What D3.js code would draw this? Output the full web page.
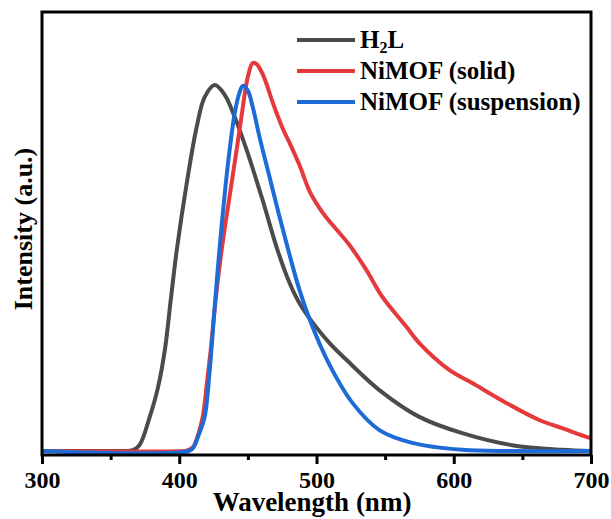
<!DOCTYPE html>
<html>
<head>
<meta charset="utf-8">
<script src="https://cdnjs.cloudflare.com/ajax/libs/d3/7.8.5/d3.min.js"></script>
<style>
  html, body { margin: 0; padding: 0; background: #fff; }
  svg { display: block; font-family: "Liberation Serif", "Times New Roman", serif; font-weight: bold; }
</style>
</head>
<body>
<div id="chart"></div>
<script>
'use strict';

// emission spectra (arbitrary units, red peak = 1)
var h2lWave = [300, 342, 360, 366, 371, 378.5, 384.4, 389.5, 393.8, 398.2, 405.5, 412.7, 418.5, 425.8, 433.1, 440.4, 449.1, 460.7, 471.6, 480.4, 487.6, 498.5, 509.5, 521.8, 545.8, 574.9, 606.2, 642.6, 678.9, 700];
var h2lInt  = [0, 0, 0, 0.002, 0.015, 0.088, 0.162, 0.26, 0.389, 0.518, 0.691, 0.835, 0.912, 0.943, 0.918, 0.861, 0.776, 0.647, 0.518, 0.433, 0.381, 0.325, 0.278, 0.235, 0.157, 0.088, 0.046, 0.015, 0.003, 0];

var solidWave = [300, 404, 405.5, 410, 414, 417.1, 420, 422.9, 426.5, 430.9, 436.7, 441.8, 445.5, 448.4, 450.5, 453.5, 456.4, 460, 463.6, 468, 475.3, 480.4, 487.6, 494.9, 502.2, 507.3, 524, 536.4, 548, 565.5, 574.9, 596.7, 613.5, 638.2, 662.2, 678.9, 697.1, 700];
var solidInt  = [0, 0, 0.001, 0.01, 0.045, 0.088, 0.17, 0.26, 0.389, 0.518, 0.657, 0.776, 0.866, 0.936, 0.972, 1.0, 0.997, 0.977, 0.946, 0.899, 0.832, 0.794, 0.737, 0.67, 0.626, 0.601, 0.531, 0.466, 0.397, 0.32, 0.278, 0.209, 0.175, 0.124, 0.08, 0.059, 0.036, 0.033];

var suspWave = [300, 407, 410.5, 414, 418.5, 422.2, 425.1, 428, 430.9, 433.8, 436.7, 440.4, 444, 446.2, 449.8, 453.5, 458.5, 465.8, 473.1, 480.4, 487.6, 497.1, 509.5, 526.2, 545.8, 569.8, 606.2, 642.6, 700];
var suspInt  = [0, 0, 0.01, 0.04, 0.088, 0.209, 0.338, 0.466, 0.582, 0.686, 0.776, 0.871, 0.925, 0.941, 0.93, 0.887, 0.809, 0.706, 0.603, 0.505, 0.415, 0.32, 0.222, 0.124, 0.054, 0.021, 0.003, 0, 0];

var seriesNames = ['H2L', 'NiMOF (solid)', 'NiMOF (suspension)'];
var seriesColors = ['#4b4b4b', '#e5393c', '#1d6bd6'];

var majorTicks = [300, 400, 500, 600, 700];
var minorTicks = [350, 450, 550, 650];

var xTitle = 'Wavelength (nm)',
    yTitle = 'Intensity (a.u.)';

var width = 611, height = 519;
var plotLeft = 42, plotRight = 591, plotTop = 12, plotBottom = 455;

var svg = d3.select('#chart').append('svg')
  .attr('width', width)
  .attr('height', height);

var x = d3.scaleLinear().domain([300, 700]).range([plotLeft, plotRight]);
var y = d3.scaleLinear().domain([0, 1]).range([451, 63]);

var series = [
  {name: seriesNames[0], color: seriesColors[0], wave: h2lWave, vals: h2lInt},
  {name: seriesNames[1], color: seriesColors[1], wave: solidWave, vals: solidInt},
  {name: seriesNames[2], color: seriesColors[2], wave: suspWave, vals: suspInt}
].map(function(s){
  s.points = s.wave.map(function(w, i){ return [w, s.vals[i]]; });
  return s;
});

var line = d3.line()
  .x(function(d){ return x(d[0]); })
  .y(function(d){ return y(d[1]); })
  .curve(d3.curveCatmullRom.alpha(0.5));

svg.append('g').selectAll('path')
  .data(series)
  .enter().append('path')
    .attr('d', function(d){ return line(d.points); })
    .attr('fill', 'none')
    .attr('stroke', function(d){ return d.color; })
    .attr('stroke-width', 4)
    .attr('stroke-linejoin', 'round');

// ticks
var xAxis = svg.append('g')
  .attr('transform', 'translate(0,' + plotBottom + ')')
  .call(d3.axisBottom(x).tickValues(majorTicks).tickSize(9).tickPadding(7).tickFormat(d3.format('d')));
xAxis.select('.domain').remove();
xAxis.selectAll('line').attr('stroke', '#000').attr('stroke-width', 3);
xAxis.selectAll('text')
  .attr('fill', '#000')
  .style('font-family', '"Liberation Serif", serif')
  .style('font-weight', 'bold')
  .style('font-size', '24px');

var xMinor = svg.append('g')
  .attr('transform', 'translate(0,' + plotBottom + ')')
  .call(d3.axisBottom(x).tickValues(minorTicks).tickSize(5).tickFormat(''));
xMinor.select('.domain').remove();
xMinor.selectAll('line').attr('stroke', '#000').attr('stroke-width', 3);

// frame
svg.append('rect')
  .attr('x', plotLeft)
  .attr('y', plotTop)
  .attr('width', plotRight - plotLeft)
  .attr('height', plotBottom - plotTop)
  .attr('fill', 'none')
  .attr('stroke', '#000')
  .attr('stroke-width', 3);

// titles
svg.append('text')
  .attr('x', 312)
  .attr('y', 511)
  .attr('text-anchor', 'middle')
  .style('font-size', '27px')
  .text(xTitle);

svg.append('text')
  .attr('transform', 'translate(32,229) rotate(-90)')
  .attr('text-anchor', 'middle')
  .style('font-size', '26px')
  .text(yTitle);

// legend
var legend = svg.append('g');
var rowY = [40, 71, 102];

legend.selectAll('line')
  .data(series)
  .enter().append('line')
    .attr('x1', 297).attr('x2', 355)
    .attr('y1', function(d, i){ return rowY[i]; })
    .attr('y2', function(d, i){ return rowY[i]; })
    .attr('stroke', function(d){ return d.color; })
    .attr('stroke-width', 4);

legend.selectAll('text')
  .data(series)
  .enter().append('text')
    .attr('x', 360)
    .attr('y', function(d, i){ return rowY[i] + 8; })
    .style('font-size', '25px')
    .each(function(d){
      var t = d3.select(this);
      if (d.name == 'H2L'){
        t.append('tspan').text('H');
        t.append('tspan').attr('dy', 5).style('font-size', '16px').text('2');
        t.append('tspan').attr('dy', -5).text('L');
      } else {
        t.text(d.name);
      }
    });
</script>
</body>
</html>
